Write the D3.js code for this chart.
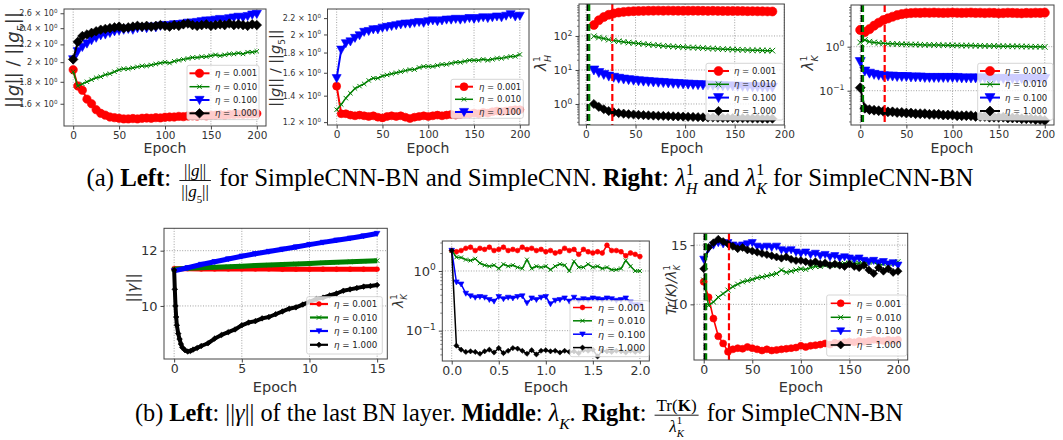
<!DOCTYPE html>
<html><head><meta charset="utf-8">
<script src="https://cdn.jsdelivr.net/npm/d3@7"></script>
<style>body{margin:0;background:#fff}svg{display:block}</style>
</head><body>
<svg id="c" width="1063" height="440"></svg>
<script>
// ---------------- DATA ----------------
const etaLabels = ["0.001", "0.010", "0.100", "1.000"];
const epochs200 = d3.range(0, 201, 5);
const epochsLamH = d3.range(8, 189, 5);
const gammaEpochs = d3.range(0, 16, 1);
const gammaBlackEpochs = [0,0.05,0.1,0.15,0.2,0.3,0.4,0.5,0.6,0.8,1.0,1.2,1.4,1.7,2.0,2.5,3,3.5,4,4.5,5,5.5,6,6.5,7,7.5,8,8.5,9,9.5,10,10.5,11,11.5,12,12.5,13,13.5,14,14.5,15];
const lamKMidEpochs = d3.range(41).map(i => i * 0.05);

// (a) left: ||g||/||g5|| SimpleCNN-BN
const gBN_r = [1.92,1.76,1.72,1.64,1.60,1.55,1.52,1.505,1.49,1.485,1.48,1.475,1.475,1.478,1.475,1.48,1.482,1.48,1.485,1.483,1.488,1.49,1.49,1.495,1.493,1.498,1.50,1.498,1.503,1.50,1.505,1.505,1.508,1.505,1.51,1.51,1.513,1.512,1.515,1.515,1.518];
const gBN_g = [1.90,1.76,1.78,1.80,1.82,1.84,1.85,1.87,1.88,1.90,1.92,1.93,1.93,1.94,1.95,1.96,1.96,1.97,1.98,1.99,2.00,1.99,2.01,2.02,2.03,2.04,2.05,2.05,2.06,2.06,2.07,2.08,2.07,2.08,2.09,2.09,2.10,2.09,2.11,2.11,2.12];
const gBN_b = [2.03,2.12,2.17,2.21,2.25,2.28,2.31,2.32,2.34,2.36,2.37,2.38,2.39,2.38,2.40,2.41,2.40,2.42,2.41,2.43,2.44,2.43,2.45,2.45,2.46,2.47,2.47,2.48,2.49,2.50,2.50,2.51,2.52,2.51,2.53,2.54,2.55,2.54,2.56,2.58,2.59];
const gBN_k = [2.03,2.23,2.30,2.32,2.34,2.36,2.38,2.39,2.40,2.41,2.42,2.40,2.41,2.42,2.43,2.42,2.43,2.42,2.43,2.44,2.43,2.42,2.44,2.43,2.45,2.46,2.44,2.43,2.44,2.45,2.43,2.44,2.45,2.44,2.46,2.44,2.45,2.44,2.43,2.45,2.44];
// ||g||/||g5|| SimpleCNN
const gNo_r = [1.48,1.26,1.26,1.25,1.245,1.25,1.245,1.24,1.245,1.235,1.23,1.24,1.245,1.24,1.245,1.235,1.225,1.235,1.24,1.245,1.24,1.245,1.25,1.245,1.25,1.255,1.25,1.255,1.26,1.26,1.265,1.26,1.27,1.265,1.275,1.28,1.275,1.28,1.285,1.29,1.29];
const gNo_g = [1.29,1.33,1.38,1.42,1.46,1.48,1.50,1.53,1.55,1.55,1.57,1.58,1.59,1.60,1.61,1.62,1.63,1.63,1.65,1.66,1.66,1.66,1.67,1.68,1.68,1.69,1.70,1.70,1.71,1.72,1.72,1.72,1.73,1.72,1.73,1.74,1.74,1.75,1.76,1.76,1.78];
const gNo_b = [1.55,1.83,1.90,1.92,1.96,1.99,2.03,2.04,2.06,2.06,2.08,2.09,2.10,2.11,2.12,2.13,2.13,2.14,2.15,2.14,2.16,2.17,2.16,2.17,2.18,2.18,2.19,2.18,2.19,2.20,2.19,2.20,2.21,2.20,2.21,2.22,2.21,2.23,2.25,2.22,2.23];
// lambda_H^1
const lamH_r = [210,290,360,420,460,490,510,525,535,540,545,550,552,555,550,555,552,550,548,550,552,550,548,545,548,545,543,540,542,540,538,535,536,532,530,528,525];
const lamH_g = [98,90,84,78,73,70,67,64,62,60,58,56,54,53,51,50,49,48,47,46,45.5,45,44,43,42.5,42,41,40.5,40,39.5,39,38.5,38,38,37.5,37,37];
const lamH_b = [10,8.4,7.4,6.6,6.1,5.7,5.4,5.2,5.0,4.8,4.7,4.55,4.45,4.35,4.25,4.15,4.05,3.98,3.9,3.83,3.77,3.7,3.65,3.6,3.55,3.5,3.45,3.4,3.37,3.33,3.3,3.26,3.22,3.2,3.17,3.13,3.1];
const lamH_k = [1.0,0.82,0.7,0.62,0.57,0.54,0.52,0.5,0.49,0.48,0.47,0.46,0.455,0.45,0.445,0.44,0.435,0.43,0.425,0.42,0.415,0.41,0.405,0.4,0.4,0.395,0.39,0.39,0.385,0.385,0.38,0.38,0.375,0.375,0.37,0.37,0.37];
// lambda_K^1
const lamK_r = [2.4,2.15,2.5,3.0,3.5,4.0,4.4,4.8,5.2,5.5,5.7,5.8,5.9,5.85,5.95,5.9,5.95,5.9,5.85,5.9,5.95,5.9,5.85,5.9,5.95,5.85,5.9,5.8,5.9,5.85,5.75,5.8,5.9,5.85,5.8,5.75,5.85,5.8,5.9,5.85,5.95];
const lamK_g = [1.25,1.42,1.3,1.25,1.22,1.2,1.17,1.16,1.15,1.14,1.13,1.12,1.12,1.11,1.1,1.1,1.09,1.09,1.08,1.08,1.07,1.07,1.06,1.06,1.06,1.05,1.05,1.04,1.04,1.04,1.03,1.03,1.02,1.02,1.02,1.01,1.01,1.0,1.0,1.0,0.99];
const lamK_b = [0.46,0.28,0.25,0.235,0.225,0.22,0.215,0.215,0.21,0.21,0.21,0.205,0.205,0.205,0.2,0.2,0.2,0.2,0.2,0.2,0.2,0.2,0.195,0.195,0.195,0.195,0.195,0.195,0.19,0.19,0.19,0.19,0.19,0.19,0.19,0.19,0.19,0.19,0.19,0.19,0.19];
const lamK_k = [0.117,0.04,0.037,0.036,0.035,0.034,0.033,0.033,0.032,0.032,0.031,0.031,0.03,0.03,0.03,0.029,0.029,0.029,0.028,0.028,0.028,0.027,0.027,0.027,0.027,0.026,0.026,0.026,0.025,0.025,0.025,0.025,0.024,0.024,0.024,0.023,0.023,0.023,0.022,0.022,0.021];
// (b) left: ||gamma||
const gamma_r = [11.35,11.35,11.34,11.34,11.34,11.34,11.34,11.34,11.33,11.33,11.33,11.33,11.33,11.33,11.33,11.33];
const gamma_g = [11.33,11.36,11.38,11.4,11.42,11.44,11.46,11.48,11.5,11.52,11.54,11.56,11.58,11.6,11.62,11.64];
const gamma_b = [11.27,11.38,11.5,11.6,11.7,11.8,11.89,11.97,12.05,12.13,12.22,12.3,12.38,12.45,12.53,12.62];
const gamma_k = [11.3,10.6,10.0,9.6,9.3,9.0,8.8,8.62,8.5,8.4,8.35,8.37,8.42,8.48,8.55,8.65,8.82,8.95,9.05,9.15,9.3,9.4,9.45,9.55,9.6,9.7,9.8,9.9,9.95,10.05,10.15,10.25,10.3,10.38,10.45,10.55,10.6,10.65,10.7,10.72,10.76];
// (b) middle: lambda_K
const lamKm_r = [2.2,2.1,2.2,2.4,2.5,2.2,2.4,2.3,2.5,2.2,2.3,2.5,2.2,2.3,2.2,2.5,2.3,2.4,2.2,2.3,2.1,2.2,2.0,2.1,2.4,2.2,2.3,1.9,2.3,2.1,2.0,2.1,2.0,2.7,2.2,2.2,2.1,1.8,2.0,1.9,1.75];
const lamKm_g = [2.2,1.7,1.68,1.55,1.5,1.6,1.35,1.25,1.2,1.25,1.1,1.3,1.2,1.25,1.15,1.1,1.55,1.1,1.2,1.15,1.2,1.05,1.2,1.3,1.25,1.0,1.45,1.15,1.15,1.3,1.15,1.2,1.1,1.15,1.05,1.05,1.1,1.5,1.2,1.0,1.0];
const lamKm_b = [2.2,0.65,0.6,0.42,0.38,0.36,0.37,0.36,0.33,0.31,0.37,0.34,0.36,0.35,0.37,0.38,0.29,0.35,0.33,0.36,0.37,0.28,0.32,0.33,0.35,0.31,0.36,0.32,0.34,0.33,0.35,0.34,0.33,0.35,0.34,0.32,0.33,0.35,0.3,0.27,0.27];
const lamKm_k = [2.2,0.056,0.048,0.044,0.045,0.044,0.041,0.045,0.048,0.043,0.051,0.042,0.046,0.051,0.05,0.046,0.041,0.047,0.04,0.046,0.047,0.045,0.046,0.043,0.046,0.044,0.045,0.042,0.047,0.046,0.048,0.037,0.046,0.045,0.044,0.046,0.045,0.043,0.046,0.044,0.045];
// (b) right: Tr(K)/lambda_K^1
const trK_r = [11.9,10.6,8.8,7.3,6.7,6.0,6.2,6.3,6.25,6.4,6.3,6.2,6.1,6.2,6.1,6.15,6.2,6.25,6.3,6.35,6.5,6.4,6.5,6.55,6.6,6.7,6.6,6.75,6.7,6.8,6.85,6.8,6.9,6.85,6.9,7.0,6.95,6.9,7.0,6.95,7.0];
const trK_g = [12.05,9.9,10.2,10.6,10.9,11.2,11.5,11.7,11.9,12.0,12.1,12.25,12.3,12.4,12.5,12.6,12.9,12.7,12.8,12.9,13.0,12.95,13.1,13.2,13.2,13.3,13.35,13.3,13.4,13.45,13.5,13.45,13.5,13.5,13.55,13.6,13.3,13.4,13.5,13.45,13.6];
const trK_b = [13.8,14.7,15.0,15.2,15.1,15.2,15.0,14.9,15.0,15.1,15.2,14.9,14.8,14.9,14.8,14.9,14.6,14.5,14.6,14.4,14.3,14.4,14.2,14.3,14.1,14.2,14.0,14.1,13.9,14.0,13.9,13.8,13.9,13.7,13.6,13.7,13.5,13.6,13.4,13.5,13.3];
const trK_k = [13.0,14.8,15.2,15.5,15.3,15.1,14.9,14.7,14.8,14.6,14.5,14.4,14.3,14.2,14.1,14.0,13.9,14.0,13.8,13.7,13.7,13.6,13.5,13.6,13.4,13.5,13.3,13.4,13.3,13.2,13.4,13.2,13.1,13.3,12.9,12.6,13.1,12.8,13.0,12.7,12.8];

// vertical marker epochs
const vlH = [1.7, 3.3, 26.6];
const vlK = [1.6, 3.0, 26.5];
const vlT = [1.0, 2.5, 26.0];

// ---------------- STYLE ----------------
const COLORS = ["#ff0000", "#008000", "#0000ff", "#000000"];
const MARKS = ["o", "x", "v", "D"];
const FONT = "'DejaVu Sans', sans-serif";
const SERIF = "'Liberation Serif', 'Times New Roman', serif";
const TXT = "#333";
const svg = d3.select("#c");

function markerPath(m, s) {
  if (m === "o") return `M${s},0A${s},${s} 0 1,1 ${-s},0A${s},${s} 0 1,1 ${s},0Z`;
  if (m === "x") return `M${-s},${-s}L${s},${s}M${-s},${s}L${s},${-s}`;
  if (m === "v") return `M${-s},${-s*0.8}L${s},${-s*0.8}L0,${s}Z`;
  return `M0,${-s}L${s},0L0,${s}L${-s},0Z`;
}
function styleMarker(sel, m, c) {
  if (m === "x") sel.attr("fill", "none").attr("stroke", c).attr("stroke-width", 1);
  else sel.attr("fill", c).attr("stroke", c).attr("stroke-width", 0.6);
}

function appendRuns(t, runs, size, opt) {
  const o = Object.assign({ sc: 0.7, up: 0.4, down: 0.24 }, opt || {});
  let shift = 0, prev = null, adv = 0;
  runs.forEach(r => {
    const toks = (r[1] || "").split(" ");
    let target = 0, fs = size;
    if (toks.includes("sup")) { target = -o.up * size; fs = o.sc * size; }
    if (toks.includes("sub")) { target = o.down * size; fs = o.sc * size; }
    const sp = t.append("tspan").text(r[0]).style("font-size", fs + "px");
    if (Math.abs(target - shift) > 1e-6) sp.attr("dy", target - shift);
    shift = target;
    if (toks.includes("b")) sp.style("font-weight", "bold");
    if (toks.includes("i")) sp.style("font-style", "italic");
    if (toks.includes("stack") && prev) {
      const w = prev.node().getComputedTextLength();
      sp.attr("dx", -w); adv -= w;
    }
    adv += sp.node().getComputedTextLength();
    prev = sp;
  });
  return adv;
}

function rotLabel(x, y, runs, fs) {
  const t = svg.append("text")
    .attr("transform", `translate(${x},${y}) rotate(-90)`)
    .attr("text-anchor", "middle").attr("y", 0.36 * fs)
    .style("font-family", FONT).style("font-size", fs + "px").attr("fill", TXT);
  appendRuns(t, runs, fs, { sc: 0.62, up: 0.45, down: 0.3 });
}

function panel(cfg) {
  const { L, R, T, B } = cfg.frame;
  const g = svg.append("g");
  const x = d3.scaleLinear().domain(cfg.xDomain).range([L, R]);
  const y = (cfg.yLog ? d3.scaleLog() : d3.scaleLinear()).domain(cfg.yDomain).range([B, T]);
  const grid = g.append("g").attr("stroke", "#8a8a8a").attr("stroke-width", 0.8).attr("stroke-dasharray", "1,1.6");
  if (cfg.gridX) grid.selectAll(null).data(cfg.xTicks).join("line")
    .attr("x1", d => x(d)).attr("x2", d => x(d)).attr("y1", T).attr("y2", B);
  if (cfg.gridY) grid.selectAll(null).data(cfg.yTicks).join("line")
    .attr("y1", d => y(d)).attr("y2", d => y(d)).attr("x1", L).attr("x2", R);
  const cid = "clip" + cfg.id;
  svg.append("clipPath").attr("id", cid).append("rect").attr("x", L).attr("y", T).attr("width", R - L).attr("height", B - T);
  const dg = g.append("g").attr("clip-path", `url(#${cid})`);
  cfg.series.forEach((s, i) => {
    const pts = s.x.map((xx, j) => [xx, s.y[j]]);
    const st = cfg.sty[i];
    dg.append("path").attr("d", d3.line().x(d => x(d[0])).y(d => y(d[1]))(pts))
      .attr("fill", "none").attr("stroke", COLORS[i]).attr("stroke-width", st.lw).attr("stroke-linejoin", "round");
    const mk = dg.selectAll(null).data(pts).join("path")
      .attr("transform", d => `translate(${x(d[0])},${y(d[1])})`)
      .attr("d", markerPath(MARKS[i], st.ms));
    styleMarker(mk, MARKS[i], COLORS[i]);
  });
  if (cfg.vlines) {
    const vc = ["#000", "#008000", "#ff0000"];
    cfg.vlines.forEach((v, i) => {
      dg.append("line").attr("x1", x(v)).attr("x2", x(v)).attr("y1", T).attr("y2", B)
        .attr("stroke", vc[i]).attr("stroke-width", 2.2).attr("stroke-dasharray", "7,3");
    });
  }
  g.append("rect").attr("x", L).attr("y", T).attr("width", R - L).attr("height", B - T)
    .attr("fill", "none").attr("stroke", "#444").attr("stroke-width", 1);
  const gx = g.append("g").attr("transform", `translate(0,${B})`)
    .call(d3.axisBottom(x).tickValues(cfg.xTicks).tickFormat(cfg.xFmt).tickSize(3.5).tickPadding(cfg.xPad).tickSizeOuter(0));
  gx.select(".domain").remove();
  gx.selectAll("line").attr("stroke", "#444");
  gx.selectAll("text").style("font-family", FONT).style("font-size", cfg.xFs + "px").attr("fill", TXT);
  const gy = g.append("g").attr("transform", `translate(${L},0)`)
    .call(d3.axisLeft(y).tickValues(cfg.yTicks).tickFormat(() => "").tickSize(3.5).tickPadding(3).tickSizeOuter(0));
  gy.select(".domain").remove();
  gy.selectAll("line").attr("stroke", "#444");
  gy.selectAll("text").style("font-family", FONT).style("font-size", cfg.yFs + "px").attr("fill", TXT)
    .each(function (d) { appendRuns(d3.select(this), cfg.yFmt(d), cfg.yFs); });
  if (cfg.yMinor) {
    const gm = g.append("g").attr("transform", `translate(${L},0)`)
      .call(d3.axisLeft(y).tickValues(cfg.yMinor.filter(v => v > cfg.yDomain[0] && v < cfg.yDomain[1])).tickFormat("").tickSize(2).tickSizeOuter(0));
    gm.select(".domain").remove();
    gm.selectAll("line").attr("stroke", "#444").attr("stroke-width", 0.7);
  }
  g.append("text").attr("x", cfg.xLab[0]).attr("y", cfg.xLab[1]).attr("text-anchor", "middle")
    .style("font-family", FONT).style("font-size", cfg.xLab[2] + "px").attr("fill", TXT).text("Epoch");
  rotLabel(cfg.yLab[0], cfg.yLab[1], cfg.yLab[3], cfg.yLab[2]);
  const lg = cfg.legend;
  const lgG = g.append("g");
  lgG.append("rect").attr("x", lg.x).attr("y", lg.y).attr("width", lg.w).attr("height", lg.h)
    .attr("rx", 2).attr("fill", "#fff").attr("fill-opacity", 0.8).attr("stroke", "#cccccc").attr("stroke-width", 0.8);
  cfg.series.forEach((s, i) => {
    const ry = lg.rows[i], st = cfg.sty[i];
    lgG.append("line").attr("x1", lg.lx1).attr("x2", lg.lx2).attr("y1", ry).attr("y2", ry)
      .attr("stroke", COLORS[i]).attr("stroke-width", Math.min(st.lw, 2.2));
    const mk = lgG.append("path").attr("transform", `translate(${(lg.lx1 + lg.lx2) / 2},${ry})`)
      .attr("d", markerPath(MARKS[i], st.ms));
    styleMarker(mk, MARKS[i], COLORS[i]);
    const t = lgG.append("text").attr("x", lg.tx).attr("y", ry + lg.fs * 0.36)
      .style("font-family", FONT).style("font-size", lg.fs + "px").attr("fill", "#222").style("white-space", "pre");
    appendRuns(t, [["η", "i"], [" = " + etaLabels[i]]], lg.fs);
  });
}

const sciFmt = d => [[String(d) + " × 10"], ["0", "sup"]];
const powFmt = d => [["10"], [String(Math.round(Math.log10(d))).replace("-", "−"), "sup"]];
const minorLog = [];
[0.01, 0.1, 1, 10, 100].forEach(b => { for (let k = 2; k <= 9; k++) minorLog.push(+(b * k).toPrecision(3)); });
const gLab = [["||"], ["g", "i"], ["|| / ||"], ["g", "i"], ["5", "sub"], ["||"]];

panel({ id: 1, frame: { L: 64, R: 266, T: 9, B: 126 }, xDomain: [-10, 210], yLog: true, yDomain: [1.42, 2.66],
  xTicks: [0, 50, 100, 150, 200], xFmt: d3.format("d"), xFs: 10.5, xPad: 2.5,
  yTicks: [1.6, 1.8, 2, 2.2, 2.4, 2.6], yFmt: sciFmt, yFs: 8,
  gridX: true, gridY: false,
  series: [{ x: epochs200, y: gBN_r }, { x: epochs200, y: gBN_g }, { x: epochs200, y: gBN_b }, { x: epochs200, y: gBN_k }],
  sty: [{ ms: 4.2, lw: 2 }, { ms: 2.2, lw: 1.5 }, { ms: 4.6, lw: 2 }, { ms: 4.8, lw: 2 }],
  xLab: [165, 153, 14], yLab: [13, 60, 18, gLab],
  legend: { x: 187, y: 65.3, w: 72, h: 54.3, rows: [73.3, 86.7, 100, 113.3], lx1: 189.5, lx2: 209.5, tx: 215, fs: 8.5 } });

panel({ id: 2, frame: { L: 327.5, R: 529, T: 9, B: 125 }, xDomain: [-10, 210], yLog: true, yDomain: [1.18, 2.32],
  xTicks: [0, 50, 100, 150, 200], xFmt: d3.format("d"), xFs: 10.5, xPad: 2.5,
  yTicks: [1.2, 1.4, 1.6, 1.8, 2, 2.2], yFmt: sciFmt, yFs: 8,
  gridX: true, gridY: false,
  series: [{ x: epochs200, y: gNo_r }, { x: epochs200, y: gNo_g }, { x: epochs200, y: gNo_b }],
  sty: [{ ms: 4, lw: 2 }, { ms: 2.2, lw: 1.5 }, { ms: 4.5, lw: 2 }],
  xLab: [428, 153, 14], yLab: [275, 68, 14.5, gLab],
  legend: { x: 451, y: 79.3, w: 72.3, h: 39, rows: [86.7, 99.3, 112], lx1: 455, lx2: 473, tx: 479, fs: 8.5 } });

panel({ id: 3, frame: { L: 579, R: 784.3, T: 4, B: 125 }, xDomain: [-7, 200], yLog: true, yDomain: [0.241, 871],
  xTicks: [0, 50, 100, 150, 200], xFmt: d3.format("d"), xFs: 10.5, xPad: 2.5,
  yTicks: [1, 10, 100], yFmt: powFmt, yFs: 11, yMinor: minorLog,
  gridX: true, gridY: true, vlines: vlH,
  series: [{ x: epochsLamH, y: lamH_r }, { x: epochsLamH, y: lamH_g }, { x: epochsLamH, y: lamH_b }, { x: epochsLamH, y: lamH_k }],
  sty: [{ ms: 4.5, lw: 2 }, { ms: 2.8, lw: 1.5 }, { ms: 5, lw: 2 }, { ms: 4.6, lw: 2 }],
  xLab: [682, 153, 14], yLab: [541, 63, 15, [["λ", "i"], ["1", "sup"], ["H", "sub i stack"]]],
  legend: { x: 706, y: 63.3, w: 77.3, h: 56.7, rows: [71, 84.3, 97.6, 111], lx1: 708, lx2: 729, tx: 734, fs: 8.5 } });

panel({ id: 4, frame: { L: 851, R: 1054, T: 5, B: 125 }, xDomain: [-10, 210], yLog: true, yDomain: [0.0166, 8.87],
  xTicks: [0, 50, 100, 150, 200], xFmt: d3.format("d"), xFs: 10.5, xPad: 2.5,
  yTicks: [0.1, 1], yFmt: powFmt, yFs: 11, yMinor: minorLog,
  gridX: true, gridY: true, vlines: vlK,
  series: [{ x: epochs200, y: lamK_r }, { x: epochs200, y: lamK_g }, { x: epochs200, y: lamK_b }, { x: epochs200, y: lamK_k }],
  sty: [{ ms: 4.6, lw: 2 }, { ms: 2.8, lw: 1.5 }, { ms: 5, lw: 2 }, { ms: 5, lw: 2 }],
  xLab: [952, 153, 14], yLab: [808, 63, 15, [["λ", "i"], ["1", "sup"], ["K", "sub i stack"]]],
  legend: { x: 977.7, y: 63.3, w: 75.3, h: 56.7, rows: [71, 84.3, 97.6, 111], lx1: 980, lx2: 1000, tx: 1005, fs: 8.5 } });

panel({ id: 5, frame: { L: 164, R: 387.3, T: 228.3, B: 359 }, xDomain: [-0.75, 15.75], yLog: false, yDomain: [8.08, 12.81],
  xTicks: [0, 5, 10, 15], xFmt: d3.format("d"), xFs: 12.5, xPad: 2,
  yTicks: [10, 12], yFmt: d => [[String(d)]], yFs: 13,
  gridX: true, gridY: true,
  series: [{ x: gammaEpochs, y: gamma_r }, { x: gammaEpochs, y: gamma_g }, { x: gammaEpochs, y: gamma_b }, { x: gammaBlackEpochs, y: gamma_k }],
  sty: [{ ms: 2.4, lw: 5 }, { ms: 2.2, lw: 5 }, { ms: 2.8, lw: 5 }, { ms: 2.8, lw: 4 }],
  xLab: [275, 391.5, 14.5], yLab: [133, 288, 15, [["||"], ["γ", "i"], ["||"]]],
  legend: { x: 306.7, y: 296.7, w: 75.6, h: 57.3, rows: [304, 317.5, 331, 344.8], lx1: 310, lx2: 328, tx: 334, fs: 8.7 } });

panel({ id: 6, frame: { L: 442.3, R: 649.3, T: 241, B: 361 }, xDomain: [-0.1, 2.1], yLog: true, yDomain: [0.031, 3.18],
  xTicks: [0, 0.5, 1, 1.5, 2], xFmt: d3.format(".1f"), xFs: 12.5, xPad: 1.5,
  yTicks: [0.1, 1], yFmt: powFmt, yFs: 13, yMinor: minorLog,
  gridX: true, gridY: true,
  series: [{ x: lamKMidEpochs, y: lamKm_r }, { x: lamKMidEpochs, y: lamKm_g }, { x: lamKMidEpochs, y: lamKm_b }, { x: lamKMidEpochs, y: lamKm_k }],
  sty: [{ ms: 2.4, lw: 1.5 }, { ms: 2, lw: 1.5 }, { ms: 2.8, lw: 1.5 }, { ms: 2.6, lw: 1.5 }],
  xLab: [546, 391.5, 14.5], yLab: [398, 301, 14, [["λ", "i"], ["1", "sup"], ["K", "sub i stack"]]],
  legend: { x: 570, y: 300.7, w: 79, h: 56, rows: [307.5, 320.8, 334.2, 347.6], lx1: 573, lx2: 592, tx: 598, fs: 9.5 } });

panel({ id: 7, frame: { L: 694, R: 907.7, T: 233.3, B: 360 }, xDomain: [-10, 210], yLog: false, yDomain: [5.3, 16.0],
  xTicks: [0, 50, 100, 150, 200], xFmt: d3.format("d"), xFs: 12.5, xPad: 2,
  yTicks: [10, 15], yFmt: d => [[String(d)]], yFs: 13,
  gridX: true, gridY: true, vlines: vlT,
  series: [{ x: epochs200, y: trK_r }, { x: epochs200, y: trK_g }, { x: epochs200, y: trK_b }, { x: epochs200, y: trK_k }],
  sty: [{ ms: 3.5, lw: 1.6 }, { ms: 2.5, lw: 1.5 }, { ms: 4, lw: 1.6 }, { ms: 4, lw: 1.6 }],
  xLab: [801, 391.5, 14.5], yLab: [671, 290, 13.5, [["Tr(K)/λ", "i"], ["1", "sup"], ["K", "sub i stack"]]],
  legend: { x: 826.7, y: 295, w: 80, h: 61, rows: [303.3, 317.3, 331, 345], lx1: 830.7, lx2: 850.7, tx: 856.7, fs: 9 } });

// ---------------- CAPTIONS ----------------
const capOpt = { sc: 0.64, up: 0.46, down: 0.32 };
function caption(cx, base, size, fsz, segs) {
  const g = svg.append("g");
  let cur = 0;
  segs.forEach(seg => {
    if (seg.frac) {
      const num = g.append("text").attr("y", base - 10.5).style("font-family", SERIF).style("font-size", fsz + "px").style("white-space", "pre");
      const nl = appendRuns(num, seg.frac.num, fsz, capOpt);
      const den = g.append("text").attr("y", base + 11).style("font-family", SERIF).style("font-size", fsz + "px").style("white-space", "pre");
      const dl = appendRuns(den, seg.frac.den, fsz, capOpt);
      const w = Math.max(nl, dl) + 4;
      num.attr("x", cur + 2 + (w - nl) / 2);
      den.attr("x", cur + 2 + (w - dl) / 2);
      g.append("line").attr("x1", cur + 2).attr("x2", cur + 2 + w).attr("y1", base - 5.8).attr("y2", base - 5.8)
        .attr("stroke", "#000").attr("stroke-width", 0.9);
      cur += w + 4;
    } else {
      const t = g.append("text").attr("x", cur).attr("y", base).style("font-family", SERIF)
        .style("font-size", size + "px").style("white-space", "pre").attr("fill", "#000");
      cur += appendRuns(t, seg.runs, size, capOpt);
    }
  });
  g.attr("transform", `translate(${cx - cur / 2},0)`);
}

caption(530, 186.3, 24.8, 17, [
  { runs: [["(a) "], ["Left", "b"], [": "]] },
  { frac: { num: [["||"], ["g", "i"], ["||"]], den: [["||"], ["g", "i"], ["5", "sub"], ["||"]] } },
  { runs: [[" for SimpleCNN-BN and SimpleCNN. "], ["Right", "b"], [": "], ["λ", "i"], ["1", "sup"], ["H", "sub i stack"],
    [" and "], ["λ", "i"], ["1", "sup"], ["K", "sub i stack"], [" for SimpleCNN-BN"]] }
]);
caption(519, 421, 24.3, 17, [
  { runs: [["(b) "], ["Left", "b"], [": ||"], ["γ", "i"], ["|| of the last BN layer. "], ["Middle", "b"], [": "], ["λ", "i"], ["K", "sub i"], [". "], ["Right", "b"], [": "]] },
  { frac: { num: [["Tr("], ["K", "b"], [")"]], den: [["λ", "i"], ["1", "sup"], ["K", "sub i stack"]] } },
  { runs: [[" for SimpleCNN-BN"]] }
]);
</script>
</body></html>
